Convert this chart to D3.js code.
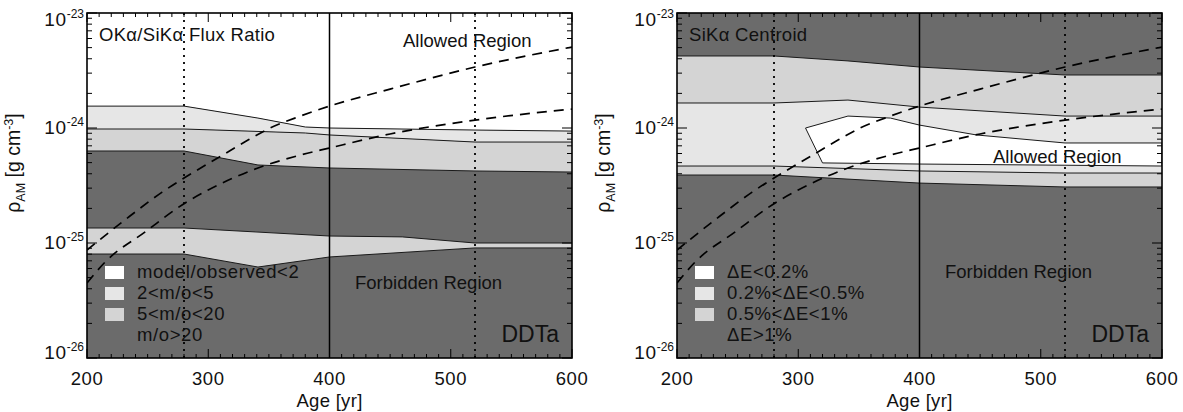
<!DOCTYPE html>
<html>
<head>
<meta charset="utf-8">
<script src="https://cdn.jsdelivr.net/npm/d3@7"></script>
<style>
  body { margin: 0; background: #fff; }
  svg text { font-family: "Liberation Sans", Arial, Helvetica, sans-serif; fill: #111; }
</style>
</head>
<body>
<div id="chart"></div>
<script>
// ---- data (age in yr, density in g cm^-3) ----
// left panel: OKa/SiKa flux ratio contours
const fluxEdge2  = [[200,1.55e-24],[280,1.55e-24],[341,1.22e-24],[380,1.02e-24],[400,1.0e-24],[520,9.6e-25],[600,9.4e-25]];
const fluxEdge5  = [[200,9.8e-25],[280,9.8e-25],[380,9.05e-25],[400,8.7e-25],[520,7.55e-25],[600,7.55e-25]];
const fluxEdge20 = [[200,6.31e-25],[280,6.31e-25],[341,4.77e-25],[400,4.49e-25],[520,4.23e-25],[600,4.14e-25]];
const fluxLowTop = [[200,1.35e-25],[280,1.35e-25],[400,1.15e-25],[460,1.13e-25],[520,1.0e-25],[600,1.0e-25]];
const fluxLowBot = [[200,8.02e-26],[280,8.02e-26],[341,6.18e-26],[400,7.56e-26],[520,9.06e-26],[600,9.06e-26]];

// right panel: SiKa centroid contours
const cenTop1   = [[200,4.23e-24],[280,4.23e-24],[341,3.83e-24],[400,3.39e-24],[520,2.89e-24],[600,2.89e-24]];
const cenTop05  = [[200,1.65e-24],[280,1.65e-24],[341,1.75e-24],[400,1.52e-24],[520,1.27e-24],[600,1.27e-24]];
const cenBot05  = [[200,4.67e-25],[280,4.67e-25],[400,4.23e-25],[520,4.06e-25],[600,4.06e-25]];
const cenBot1   = [[200,3.90e-25],[280,3.90e-25],[400,3.32e-25],[520,3.07e-25],[600,3.07e-25]];
const cenIsland = [[306,1.0e-24],[341,1.27e-24],[376,1.22e-24],[400,1.06e-24],[447,8.7e-25],[520,7.41e-25],[600,7.41e-25],
                   [600,4.67e-25],[400,4.86e-25],[320,4.97e-25]];

// ambient density model tracks (dashed)
const modelHi = [[200,8.69e-26],[231,1.58e-25],[262,2.77e-25],[280,3.67e-25],[312,5.82e-25],[330,7.55e-25],[351,1.0e-24],
                 [376,1.27e-24],[400,1.55e-24],[450,2.18e-24],[520,3.39e-24],[600,5.06e-24]];
const modelLo = [[200,4.49e-26],[215,6.84e-26],[248,1.25e-25],[281,2.23e-25],[300,2.89e-25],[341,4.49e-25],[376,5.82e-25],
                 [400,6.70e-25],[450,8.87e-25],[520,1.17e-24],[600,1.46e-24]];

const solidAge = [400];
const dottedAges = [280, 520];
const xTicks = [200, 300, 400, 500, 600];
const yDecades = [-26, -25, -24, -23];
const fluxLegend = ["model/observed<2", "2<m/o<5", "5<m/o<20", "m/o>20"];
const cenLegend = ["\u0394E<0.2%", "0.2%<\u0394E<0.5%", "0.5%<\u0394E<1%", "\u0394E>1%"];

// ---- layout ----
const W = 1183, H = 412;
const plotTop = 13, plotH = 345, plotW = 485;
const lefts = [87, 677];
const DARK = "#6b6b6b", LIGHT = "#e6e6e6", MID = "#d4d4d4";
const FS = 18.5;

const svg = d3.select("#chart").append("svg").attr("width", W).attr("height", H);

const x = d3.scaleLinear().domain([200, 600]).range([0, plotW]);
const y = d3.scaleLog().domain([1e-26, 1e-23]).range([plotH, 0]);

const line = d3.line().x(d => x(d[0])).y(d => y(d[1]));
const smooth = d3.line().x(d => x(d[0])).y(d => y(d[1])).curve(d3.curveMonotoneX);
// band polygon: upper edge then lower edge backwards
const band = (upper, lower) => line(upper.concat(lower.slice().reverse())) + "Z";
const topEdge = [[200,1e-23],[600,1e-23]];

function drawPanel(i, cfg) {
  const g = svg.append("g").attr("transform", `translate(${lefts[i]},${plotTop})`);
  g.append("clipPath").attr("id", "clip" + i)
    .append("rect").attr("width", plotW).attr("height", plotH);
  const body = g.append("g").attr("clip-path", `url(#clip${i})`);

  body.append("rect").attr("width", plotW).attr("height", plotH).attr("fill", DARK);
  cfg.bands.forEach(b => {
    body.append("path").attr("d", b.d).attr("fill", b.fill).attr("stroke", "none");
  });
  cfg.edges.forEach(e => {
    body.append("path").attr("d", e).attr("fill", "none").attr("stroke", "#1a1a1a").attr("stroke-width", 1);
  });

  // model tracks
  [modelHi, modelLo].forEach(m => {
    body.append("path").attr("d", smooth(m)).attr("fill", "none")
      .attr("stroke", "#000").attr("stroke-width", 1.7).attr("stroke-dasharray", "10,7");
  });

  // age markers
  body.selectAll(".solid").data(solidAge).enter().append("line")
    .attr("x1", d => x(d)).attr("x2", d => x(d)).attr("y1", 0).attr("y2", plotH)
    .attr("stroke", "#000").attr("stroke-width", 1.5);
  body.selectAll(".dotted").data(dottedAges).enter().append("line")
    .attr("x1", d => x(d)).attr("x2", d => x(d)).attr("y1", 0).attr("y2", plotH)
    .attr("stroke", "#000").attr("stroke-width", 1.8).attr("stroke-dasharray", "2,5");

  // labels inside the plot
  g.append("text").attr("x", 12).attr("y", 28).attr("font-size", FS).attr("letter-spacing", 0.3).text(cfg.title);
  g.append("text").attr("x", cfg.allowed[0]).attr("y", cfg.allowed[1]).attr("font-size", FS).text("Allowed Region");
  g.append("text").attr("x", cfg.forbidden[0]).attr("y", cfg.forbidden[1]).attr("font-size", FS).text("Forbidden Region");
  g.append("text").attr("x", plotW - 13).attr("y", 329).attr("text-anchor", "end").attr("font-size", 23).text("DDTa");

  // legend
  const lg = g.append("g").attr("transform", "translate(18,253)");
  const swatch = ["#fff", LIGHT, MID];
  cfg.legend.forEach((t, k) => {
    if (k < 3) lg.append("rect").attr("x", 0).attr("y", k * 21).attr("width", 19).attr("height", 13).attr("fill", swatch[k]);
    lg.append("text").attr("x", 32).attr("y", k * 21 + 12).attr("font-size", FS)
      .attr("letter-spacing", 0.6).text(t);
  });

  // ticks on all four sides, pointing inward
  const minorX = d3.range(200, 601, 10);
  const yMinor = [];
  yDecades.slice(0, 3).forEach(e => { for (let m = 2; m <= 9; m++) yMinor.push(m * Math.pow(10, e)); });
  const tk = g.append("g").attr("stroke", "#000").attr("stroke-width", 1);
  minorX.forEach(v => {
    const len = xTicks.includes(v) ? 9 : 4;
    tk.append("line").attr("x1", x(v)).attr("x2", x(v)).attr("y1", plotH).attr("y2", plotH - len);
    tk.append("line").attr("x1", x(v)).attr("x2", x(v)).attr("y1", 0).attr("y2", len);
  });
  yDecades.forEach(e => {
    const yy = y(Math.pow(10, e));
    tk.append("line").attr("x1", 0).attr("x2", 10).attr("y1", yy).attr("y2", yy);
    tk.append("line").attr("x1", plotW).attr("x2", plotW - 10).attr("y1", yy).attr("y2", yy);
  });
  yMinor.forEach(v => {
    const yy = y(v);
    tk.append("line").attr("x1", 0).attr("x2", 5).attr("y1", yy).attr("y2", yy);
    tk.append("line").attr("x1", plotW).attr("x2", plotW - 5).attr("y1", yy).attr("y2", yy);
  });

  // frame
  g.append("rect").attr("width", plotW).attr("height", plotH)
    .attr("fill", "none").attr("stroke", "#000").attr("stroke-width", 1.6);

  // x tick labels
  g.selectAll(".xl").data(xTicks).enter().append("text")
    .attr("x", d => x(d)).attr("y", plotH + 27).attr("text-anchor", "middle").attr("font-size", FS)
    .attr("letter-spacing", 0.6).text(d => d);
  g.append("text").attr("x", plotW / 2).attr("y", plotH + 49).attr("text-anchor", "middle")
    .attr("font-size", FS).attr("letter-spacing", 0.3).text("Age [yr]");

  // y tick labels 10^n
  yDecades.forEach(e => {
    const yy = Math.min(Math.max(y(Math.pow(10, e)) + 6, 13), plotH + 1);
    const t = g.append("text").attr("x", -3).attr("y", yy).attr("text-anchor", "end").attr("font-size", 19)
      .attr("letter-spacing", 0.6);
    t.append("tspan").text("10");
    t.append("tspan").attr("dy", -8).attr("font-size", 12).attr("letter-spacing", 0).text(e);
  });

  // y axis title
  const yt = g.append("text").attr("transform", `translate(${-67},${150}) rotate(-90)`)
    .attr("text-anchor", "middle").attr("font-size", 19.5);
  yt.append("tspan").text("\u03c1");
  yt.append("tspan").attr("dy", 5).attr("font-size", 12.5).text("AM");
  yt.append("tspan").attr("dy", -5).text(" [g cm");
  yt.append("tspan").attr("dy", -7).attr("font-size", 12.5).text("-3");
  yt.append("tspan").attr("dy", 7).text("]");
}

drawPanel(0, {
  title: "OK\u03b1/SiK\u03b1 Flux Ratio",
  allowed: [316, 34],
  forbidden: [268, 276],
  legend: fluxLegend,
  bands: [
    { d: band(topEdge, fluxEdge2), fill: "#fff" },
    { d: band(fluxEdge2, fluxEdge5), fill: LIGHT },
    { d: band(fluxEdge5, fluxEdge20), fill: MID },
    { d: band(fluxLowTop, fluxLowBot), fill: MID }
  ],
  edges: [line(fluxEdge2), line(fluxEdge5), line(fluxEdge20), line(fluxLowTop), line(fluxLowBot)]
});

drawPanel(1, {
  title: "SiK\u03b1 Centroid",
  allowed: [316, 150],
  forbidden: [268, 265],
  legend: cenLegend,
  bands: [
    { d: band(cenTop1, cenBot1), fill: MID },
    { d: band(cenTop05, cenBot05), fill: LIGHT },
    { d: line(cenIsland) + "Z", fill: "#fff" }
  ],
  edges: [line(cenTop1), line(cenTop05), line(cenBot05), line(cenBot1), line(cenIsland) + "Z"]
});
</script>
</body>
</html>
